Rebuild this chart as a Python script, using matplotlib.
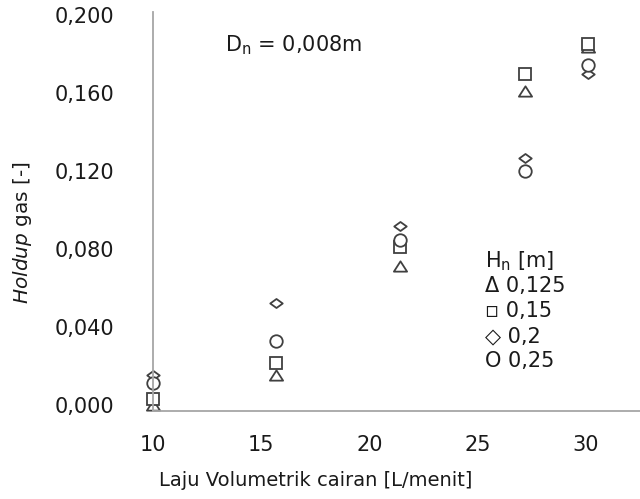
import matplotlib
matplotlib.use("Agg")
import matplotlib.pyplot as plt
from matplotlib.path import Path

# Data
flow = [10, 15.7, 21.4, 27.2, 30.1]  # L/menit
holdup_0125 = [0.000, 0.0154, 0.0711, 0.1611, 0.1837]
holdup_015 = [0.0027, 0.0214, 0.0810, 0.1697, 0.1852]
holdup_02 = [0.0151, 0.0520, 0.0917, 0.1265, 0.1700]
holdup_025 = [0.0110, 0.0325, 0.0845, 0.1200, 0.1745]

ytick_vals = [0.000, 0.040, 0.080, 0.120, 0.160, 0.200]
ytick_labels = ['0,000', '0,040', '0,080', '0,120', '0,160', '0,200']
xtick_vals = [10, 15, 20, 25, 30]
xtick_labels = ['10', '15', '20', '25', '30']

legend_lines = ['H$_\\mathregular{n}$ [m]', '\u0394 0,125', '\u25AB 0,15', '\u25C7 0,2', 'O 0,25']

# flattened diamond / triangle like the excel markers
flat_diamond = Path([(-1, 0), (0, 0.72), (1, 0), (0, -0.72), (-1, 0)],
                    [Path.MOVETO, Path.LINETO, Path.LINETO, Path.LINETO, Path.CLOSEPOLY])
flat_triangle = Path([(0, 0.78), (-1, -0.78), (1, -0.78), (0, 0.78)],
                     [Path.MOVETO, Path.LINETO, Path.LINETO, Path.CLOSEPOLY])

fig = plt.figure(figsize=(6.4, 4.99), dpi=100)
ax = fig.add_axes([0.239, 0.176, 0.761, 0.800])

edge = '#404040'
common = dict(linestyle='none', markerfacecolor='white', markeredgecolor=edge,
              markeredgewidth=1.3, clip_on=False)
ax.plot(flow, holdup_0125, marker=flat_triangle, markersize=9.5, **common)
ax.plot(flow, holdup_015, marker='s', markersize=9.3, **common)
ax.plot(flow, holdup_02, marker=flat_diamond, markersize=9, **common)
ax.plot(flow, holdup_025, marker='o', markersize=9, **common)

ax.set_xlim(10, 32.5)
ax.set_ylim(-0.0034, 0.2017)
ax.set_xticks(xtick_vals)
ax.set_xticklabels(xtick_labels)
ax.set_yticks(ytick_vals)
ax.set_yticklabels(ytick_labels)
ax.tick_params(axis='both', length=0, labelsize=15, colors='#1a1a1a')
ax.tick_params(axis='x', pad=17)
ax.tick_params(axis='y', pad=28)

for side in ['top', 'right']:
    ax.spines[side].set_visible(False)
for side in ['left', 'bottom']:
    ax.spines[side].set_color('#a6a6a6')
    ax.spines[side].set_linewidth(1.3)

fig.text(0.494, 0.038, 'Laju Volumetrik cairan [L/menit]', ha='center', va='center',
         fontsize=14, color='#1a1a1a')
fig.text(0.035, 0.535, r'$\mathit{Holdup}$ gas [-]', rotation=90, ha='center', va='center',
         fontsize=14.5, color='#1a1a1a')

ax.text(0.148, 0.917, 'D$_\\mathregular{n}$ = 0,008m', transform=ax.transAxes,
        ha='left', va='center', fontsize=15, color='#1a1a1a')

for i, line in enumerate(legend_lines):
    ax.text(0.682, 0.376 - i * 0.0625, line, transform=ax.transAxes,
            ha='left', va='center', fontsize=15, color='#1a1a1a')

fig.savefig('out.png', dpi=100)
